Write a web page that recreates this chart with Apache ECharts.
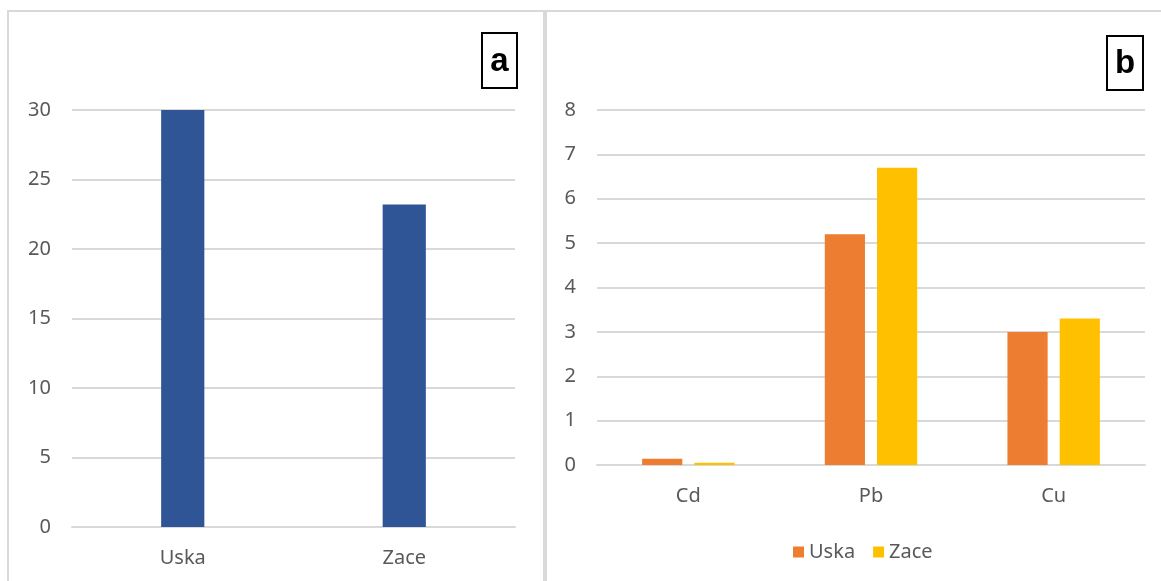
<!DOCTYPE html>
<html>
<head>
<meta charset="utf-8">
<script src="https://cdn.jsdelivr.net/npm/echarts@6/dist/echarts.min.js"></script>
<style>
  html, body { margin: 0; padding: 0; background: #fff; }
  #chart { width: 1161px; height: 581px; }
</style>
</head>
<body>
<div id="chart"></div>
<script>
// panel a
const sitesA = ['Uska', 'Zace']
const valuesA = [30, 23.2]
// panel b
const metals = ['Cd', 'Pb', 'Cu']
const uska = [0.14, 5.2, 3.0]
const zace = [0.05, 6.7, 3.3]

const textColor = '#595959'
const gridColor = '#D9D9D9'
const font = 'Noto Sans'

const chart = echarts.init(document.getElementById('chart'))

function yAxis(gridIndex, max, interval) {
  return {
    type: 'value',
    gridIndex,
    min: 0,
    max,
    interval,
    axisLine: { show: false },
    axisTick: { show: false },
    axisLabel: { color: textColor, fontSize: 20, fontFamily: font, margin: 21 },
    splitLine: { lineStyle: { color: gridColor, width: 2 } }
  }
}

function xAxis(gridIndex, data) {
  return {
    type: 'category',
    gridIndex,
    data,
    axisLine: { lineStyle: { color: gridColor, width: 2 } },
    axisTick: { show: false },
    axisLabel: { color: textColor, fontSize: 20, fontFamily: font, margin: 21 }
  }
}

function labelBox(x, y, w, h, txt) {
  return {
    type: 'group',
    children: [
      { type: 'rect', shape: { x, y, width: w, height: h }, style: { fill: '#fff', stroke: '#000', lineWidth: 2 } },
      { type: 'text', x: x + w / 2, y: y + h / 2 + 1, style: { text: txt, font: 'bold 33px "Liberation Sans"', fill: '#000', align: 'center', verticalAlign: 'middle' } }
    ]
  }
}

chart.setOption({
  animation: false,
  grid: [
    { left: 72, right: 646, top: 110, bottom: 54 },
    { left: 597, right: 16, top: 110, bottom: 116 }
  ],
  xAxis: [xAxis(0, sitesA), xAxis(1, metals)],
  yAxis: [yAxis(0, 30, 5), yAxis(1, 8, 1)],
  legend: {
    data: ['Uska', 'Zace'],
    left: 788,
    top: 537,
    icon: 'rect',
    itemWidth: 11,
    itemHeight: 11,
    itemGap: 18,
    textStyle: { color: textColor, fontSize: 20, fontFamily: font }
  },
  graphic: [
    { type: 'rect', shape: { x: 8, y: 11, width: 536, height: 600 }, style: { fill: 'none', stroke: gridColor, lineWidth: 2 } },
    { type: 'rect', shape: { x: 546, y: 11, width: 640, height: 600 }, style: { fill: 'none', stroke: gridColor, lineWidth: 2 } },
    labelBox(482, 33, 35, 55, 'a'),
    labelBox(1107, 36, 36, 54, 'b')
  ],
  series: [
    {
      name: 'Total',
      type: 'bar',
      xAxisIndex: 0,
      yAxisIndex: 0,
      data: valuesA,
      barWidth: '19.5%',
      itemStyle: { color: '#2F5597' }
    },
    {
      name: 'Uska',
      type: 'bar',
      xAxisIndex: 1,
      yAxisIndex: 1,
      data: uska,
      barWidth: '22%',
      barGap: '30%',
      itemStyle: { color: '#ED7D31' }
    },
    {
      name: 'Zace',
      type: 'bar',
      xAxisIndex: 1,
      yAxisIndex: 1,
      data: zace,
      barWidth: '22%',
      barGap: '30%',
      itemStyle: { color: '#FFC000' }
    }
  ]
})
</script>
</body>
</html>
